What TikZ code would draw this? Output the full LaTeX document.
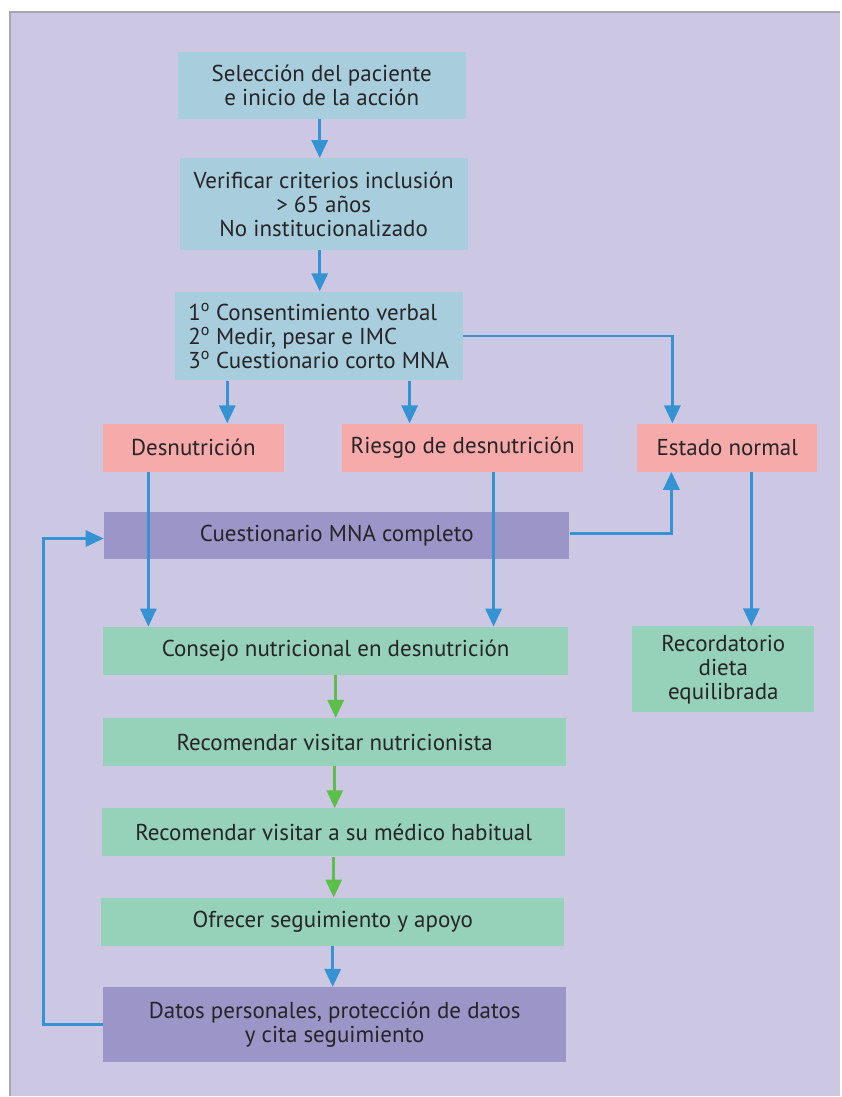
\documentclass[tikz,border=0pt]{standalone}
\usepackage{fontspec}
\setmainfont{PT Sans}
\usepackage{xcolor}
\usetikzlibrary{arrows.meta,positioning}

\definecolor{bgpurple}{HTML}{CCC8E4}
\definecolor{framegray}{HTML}{A9A7B4}
\definecolor{boxblue}{HTML}{A8CEDD}
\definecolor{boxpink}{HTML}{F7AAAA}
\definecolor{boxviolet}{HTML}{9B95C8}
\definecolor{boxgreen}{HTML}{96D2B9}
\definecolor{arrowblue}{HTML}{3593D3}
\definecolor{arrowgreen}{HTML}{5CBF4A}
\definecolor{textdark}{HTML}{262426}

\begin{document}
\begin{tikzpicture}[
  x=1pt, y=1pt,
  font=\fontsize{23}{24}\selectfont, text=textdark,
  block/.style={align=center, inner sep=0pt, minimum height=48pt},
  entry/.style={block, fill=boxblue, minimum width=288pt},
  result/.style={block, fill=boxpink},
  survey/.style={block, fill=boxviolet, minimum width=466pt},
  advice/.style={block, fill=boxgreen, minimum width=465pt},
  arrow/.style={-{Triangle[length=18pt, width=16pt]}, line width=3pt, arrowblue},
  garrow/.style={arrow, arrowgreen}
]
% background panel
\fill[bgpurple] (10,-12) rectangle (841,-1097);
\draw[framegray, line width=2pt] (10,-1097) -- (10,-12) -- (841,-12);
\useasboundingbox (0,0) rectangle (841,-1097);

% screening
\node[entry, minimum height=67pt] (sel) at (322,-85.5)
  {Selección del paciente\\e inicio de la acción};
\node[entry, minimum height=92pt, below=39pt of sel, xshift=2pt] (ver)
  {Verificar criterios inclusión\\> 65 años\\No institucionalizado};
\node[entry, minimum height=89pt, below=41pt of ver, xshift=-5pt, align=left] (con)
  {1\textsuperscript{o} Consentimiento verbal\\2\textsuperscript{o} Medir, pesar e IMC\\3\textsuperscript{o} Cuestionario corto MNA};

% results
\node[result, minimum width=181pt] (des) at (193.5,-448) {Desnutrición};
\node[result, minimum width=242pt] (rie) at (463,-448) {Riesgo de desnutrición};
\node[result, minimum width=180pt] (est) at (728,-448) {Estado normal};

\node[survey] (mna) at (337,-536) {Cuestionario MNA completo};

% intervention
\node[advice, below=67pt of mna, xshift=-1pt] (consejo) {Consejo nutricional en desnutrición};
\node[advice, below=43pt of consejo, xshift=-1pt, minimum width=464pt] (nutri) {Recomendar visitar nutricionista};
\node[advice, below=42pt of nutri, xshift=-1pt, minimum width=464pt] (medico) {Recomendar visitar a su médico habitual};
\node[advice, below=41pt of medico, xshift=-1pt, minimum width=464pt] (ofrecer) {Ofrecer seguimiento y apoyo};
\node[survey, minimum height=75pt, below=41pt of ofrecer, xshift=2pt, minimum width=464pt] (datos)
  {Datos personales, protección de datos\\y cita seguimiento};

\node[advice, minimum width=182pt, minimum height=86pt] (rec) at (724,-670)
  {Recordatorio\\dieta\\equilibrada};

% connectors
\draw[arrow] ([xshift=-2pt]sel.south) -- ([xshift=-2pt]sel.south |- ver.north);
\draw[arrow] ([xshift=-4pt]ver.south) -- ([xshift=-4pt]ver.south |- con.north);
\draw[arrow] ([xshift=34pt]des.north |- con.south) -- ([xshift=34pt]des.north);
\draw[arrow] ([xshift=-53pt]rie.north |- con.south) -- ([xshift=-53pt]rie.north);
\draw[arrow] (con.east) -| ([xshift=-55pt]est.north);
\draw[arrow] ([yshift=2pt]mna.east) -| ([xshift=-56pt]est.south);
\draw[arrow] ([xshift=-45pt]des.south) coordinate (d1) -- (d1 |- consejo.north);
\draw[arrow] ([xshift=31pt]rie.south) coordinate (r1) -- (r1 |- consejo.north);
\draw[arrow] ([xshift=24pt]est.south) coordinate (e1) -- (e1 |- rec.north);
\draw[garrow] (consejo.south) -- (consejo.south |- nutri.north);
\draw[garrow] (nutri.south) -- (nutri.south |- medico.north);
\draw[garrow] (medico.south) -- (medico.south |- ofrecer.north);
\draw[arrow] (ofrecer.south) -- (ofrecer.south |- datos.north);
\draw[arrow] (datos.west) -- ++(-59pt,0) |- ([yshift=-3pt]mna.west);
\end{tikzpicture}
\end{document}
